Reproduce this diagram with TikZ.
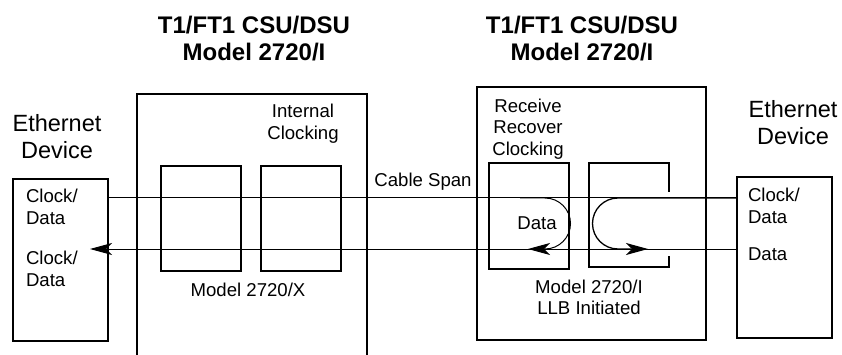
\documentclass[tikz,border=0pt]{standalone}
\usepackage{fontspec}
\setmainfont{Liberation Sans}
\usetikzlibrary{arrows.meta}

\begin{document}
\begin{tikzpicture}[x=1pt,y=-1pt]
        \tikzstyle{every node}=[inner sep=0pt,outer sep=0pt]
        \tikzstyle{devbox}=[draw,line width=1.2pt,minimum width=95pt,minimum height=162pt]
        \tikzstyle{unit}=[draw,line width=2.4pt,minimum width=80pt,minimum height=105pt]
        \tikzstyle{txt}=[font=\fontsize{18.6}{22}\selectfont,align=left]
        \tikzstyle{ctxt}=[font=\fontsize{18.6}{21.5}\selectfont,align=center]
        \tikzstyle{big}=[font=\fontsize{23.5}{27}\selectfont,align=center]
        \tikzstyle{title}=[font=\fontsize{24}{27}\selectfont\bfseries,align=center]
        \tikzstyle{wire}=[line width=1pt]
        \tikzstyle{arr}=[-{Stealth[length=22pt,width=12pt,inset=6pt]}]
        \useasboundingbox (0,0) rectangle (842,355);
        % titles
        \node[title] (ltitle) at (254,38.5) {T1/FT1 CSU/DSU\\Model 2720/I};
        \node[title] (rtitle) at (582,38.5) {T1/FT1 CSU/DSU\\Model 2720/I};
        % csu boxes
        \draw[line width=2.4pt] (137,357) -- (137,94) -- (367,94) -- (367,357);
        \draw[line width=2.6pt] (477,87) rectangle (706,340);
        \node[unit] (u1) at (201,218.5) {};
        \node[unit] (u2) at (301,218.5) {};
        \node[unit,minimum height=106pt] (u3) at (529,216) {};
        \draw[line width=2.4pt] (669,192) -- (669,163) -- (589,163) -- (589,267) -- (669,267) -- (669,256);
        % ethernet devices
        \node[devbox] (ldev) at (60.5,260) {};
        \node[devbox,minimum height=161pt] (rdev) at (784.5,257.5) {};
        \node[big] (lname) at (57,136.5) {Ethernet\\Device};
        \node[big] (rname) at (793,123) {Ethernet\\Device};
        \node[txt,anchor=west] (lin) at (26,207) {Clock/\\Data};
        \node[txt,anchor=west] (lout) at (26,268.5) {Clock/\\Data};
        \node[txt,anchor=west] (rin) at (748,206) {Clock/\\Data};
        \node[txt,anchor=west] (rout) at (748,254) {Data};
        % labels
        \node[ctxt] (intclk) at (303,123.5) {Internal\\Clocking};
        \node[ctxt] (rxclk) at (528,129) {Receive\\Recover\\Clocking};
        \node[ctxt] (span) at (423,182) {Cable Span};
        \node[ctxt] (data) at (537,223) {Data};
        \node[ctxt] (mx) at (248,290) {Model 2720/X};
        \node[ctxt] (mi) at (589,297.5) {Model 2720/I\\LLB Initiated};
        % wires
        \coordinate (top) at (0,198);
        \coordinate (bot) at (0,249);
        \coordinate (ltip) at (90,249);
        \draw[wire] (ldev.east |- top) -- (rdev.west |- top);
        \draw[wire,arr] (rdev.west |- bot) -- (ltip);
        % loopbacks
        \draw[wire,arr] (520,198) -- (545,198) arc (-90:90:25.5) -- (528,249);
        \draw[wire,line width=1.3pt,arr] (rdev.west |- top) -- (618,198) arc (-90:-270:25.5) -- (648,249);
\end{tikzpicture}
\end{document}
